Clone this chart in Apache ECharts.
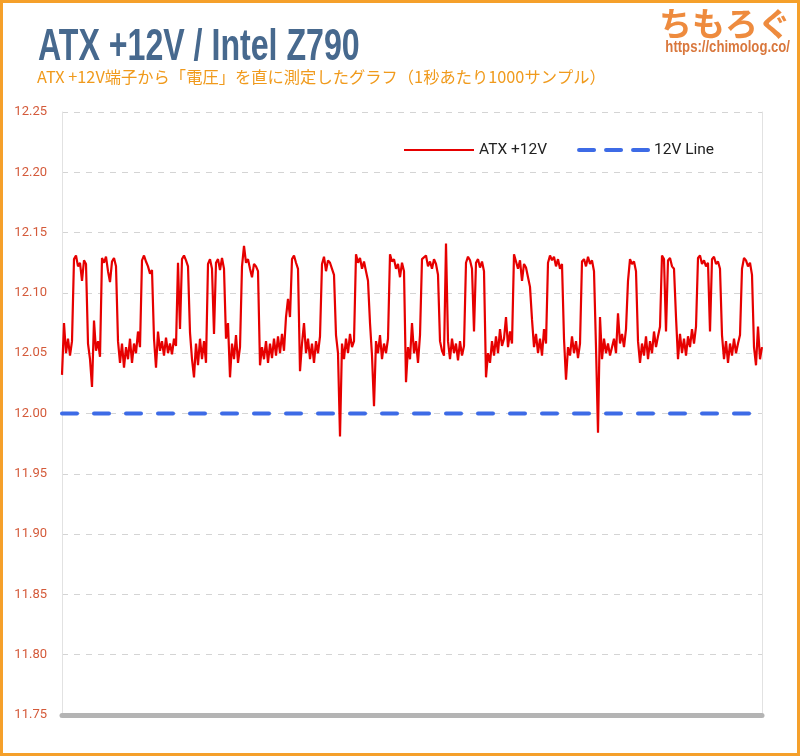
<!DOCTYPE html>
<html>
<head>
<meta charset="utf-8">
<script src="https://cdn.jsdelivr.net/npm/echarts@6/dist/echarts.min.js"></script>
<style>
html,body{margin:0;padding:0;background:#fff;}
#chart{width:800px;height:756px;}
</style>
</head>
<body>
<div id="chart"></div>
<script>
// Titles and labels
const titleText = 'ATX +12V / Intel Z790';
const subtitleText = 'ATX +12V端子から「電圧」を直に測定したグラフ（1秒あたり1000サンプル）';
const logoText = 'ちもろぐ';
const urlText = 'https://chimolog.co/';
const seriesNames = ['ATX +12V', '12V Line'];
const yTicks = [11.75, 11.80, 11.85, 11.90, 11.95, 12.00, 12.05, 12.10, 12.15, 12.20, 12.25];
const referenceVolt = 12.00;

// ATX +12V readings (volts), read across the 1-second window
const atx12v = [
  12.032, 12.075, 12.050, 12.062, 12.048, 12.060,
  12.128, 12.131, 12.122, 12.125, 12.110, 12.127, 12.124,
  12.058, 12.045, 12.022, 12.077, 12.052, 12.060, 12.047,
  12.129, 12.125, 12.130, 12.118, 12.109, 12.126, 12.129, 12.122,
  12.060, 12.042, 12.058, 12.038, 12.055, 12.045, 12.062, 12.042, 12.058, 12.050, 12.068, 12.055,
  12.127, 12.131, 12.126, 12.122, 12.116, 12.119,
  12.062, 12.038, 12.068, 12.052, 12.060, 12.048, 12.063, 12.050, 12.058, 12.049, 12.062, 12.056,
  12.125, 12.070, 12.128, 12.131, 12.127, 12.122,
  12.067, 12.045, 12.030, 12.058, 12.040, 12.062, 12.045, 12.060, 12.042,
  12.124, 12.128, 12.120, 12.066, 12.125, 12.128, 12.119, 12.129, 12.120,
  12.062, 12.075, 12.030, 12.058, 12.045, 12.065, 12.042, 12.055,
  12.122, 12.139, 12.125, 12.128, 12.120, 12.113, 12.124, 12.122, 12.118,
  12.040, 12.055, 12.045, 12.060, 12.042, 12.058, 12.046, 12.062, 12.048, 12.064, 12.050, 12.066, 12.052, 12.080,
  12.095, 12.080, 12.128, 12.131, 12.125, 12.120,
  12.035, 12.058, 12.075, 12.050, 12.062, 12.045, 12.058, 12.042, 12.060, 12.050, 12.064,
  12.124, 12.130, 12.118, 12.127, 12.125, 12.120, 12.115,
  12.065, 12.050, 11.981, 12.058, 12.045, 12.062, 12.050, 12.066, 12.055, 12.060,
  12.132, 12.125, 12.129, 12.120, 12.126, 12.118, 12.110,
  12.075, 12.048, 12.006, 12.060, 12.050, 12.065, 12.045, 12.058, 12.050, 12.062,
  12.132, 12.126, 12.128, 12.120, 12.124, 12.113, 12.125, 12.118,
  12.026, 12.055, 12.045, 12.075, 12.050, 12.060, 12.042, 12.065,
  12.128, 12.127, 12.131, 12.122, 12.126, 12.120, 12.128, 12.124, 12.115,
  12.060, 12.052, 12.048, 12.141, 12.060,
  12.045, 12.062, 12.050, 12.058, 12.044, 12.060, 12.048, 12.056,
  12.125, 12.130, 12.127, 12.120, 12.068, 12.125, 12.128, 12.121, 12.126, 12.118,
  12.030, 12.050, 12.042, 12.060, 12.048, 12.064, 12.050, 12.070, 12.056, 12.062, 12.080, 12.055, 12.068, 12.058,
  12.132, 12.126, 12.120, 12.127, 12.110, 12.124, 12.121, 12.113, 12.105,
  12.078, 12.055, 12.066, 12.050, 12.062, 12.048, 12.070, 12.058,
  12.125, 12.131, 12.127, 12.130, 12.122, 12.128, 12.120, 12.124,
  12.062, 12.028, 12.055, 12.048, 12.064, 12.050, 12.060, 12.046, 12.058,
  12.126, 12.128, 12.122, 12.130, 12.124, 12.127, 12.118,
  12.055, 11.984, 12.080, 12.045, 12.062, 12.050, 12.058, 12.048, 12.055, 12.062, 12.050, 12.083, 12.058, 12.066, 12.055, 12.070,
  12.110, 12.128, 12.124, 12.126, 12.118,
  12.060, 12.042, 12.058, 12.048, 12.064, 12.045, 12.060, 12.050, 12.068, 12.055, 12.064, 12.072,
  12.131, 12.128, 12.068, 12.127, 12.129, 12.122, 12.120,
  12.080, 12.045, 12.066, 12.050, 12.062, 12.048, 12.064, 12.055, 12.070, 12.058, 12.072,
  12.129, 12.131, 12.124, 12.127, 12.122, 12.125, 12.068, 12.128, 12.130, 12.124, 12.126, 12.120,
  12.065, 12.045, 12.060, 12.042, 12.058, 12.048, 12.062, 12.050, 12.058, 12.065,
  12.120, 12.129, 12.127, 12.122, 12.125, 12.115,
  12.055, 12.040, 12.072, 12.045, 12.055
];

const sampleIndex = atx12v.map((_, i) => i);
const lineValues = atx12v.map(() => referenceVolt);

const chart = echarts.init(document.getElementById('chart'), null, {renderer: 'canvas'});
chart.setOption({
  backgroundColor: '#ffffff',
  animation: false,
  graphic: [
    {type: 'text', silent: true, x: 38, y: 48, scaleX: 0.73, scaleY: 1,
     style: {text: titleText, fill: '#47698e', font: 'bold 44px "Liberation Sans", Arial, sans-serif',
             textAlign: 'left', textVerticalAlign: 'middle'}},
    {type: 'text', silent: true, x: 37, y: 77,
     style: {text: subtitleText, fill: '#f09a1c', font: '16.3px "Noto Sans CJK JP", sans-serif',
             textAlign: 'left', textVerticalAlign: 'middle'}},
    {type: 'text', silent: true, x: 791, y: 23,
     style: {text: logoText, fill: '#ee8b3e', font: 'bold 33px "Noto Sans CJK JP", sans-serif',
             textAlign: 'right', textVerticalAlign: 'middle'}},
    {type: 'text', silent: true, x: 790, y: 48, scaleX: 0.82,
     style: {text: urlText, fill: '#d9773c', font: 'bold 16px "Liberation Sans", Arial, sans-serif',
             textAlign: 'right', textVerticalAlign: 'middle'}},
    {type: 'rect', silent: true, z: 100, shape: {x: 1.5, y: 1.5, width: 797, height: 753},
     style: {fill: 'none', stroke: '#f5a02a', lineWidth: 3}}
  ],
  legend: {
    left: 398, top: 137,
    itemWidth: 70, itemHeight: 14, itemGap: 30,
    itemStyle: {color: 'rgba(0,0,0,0)', borderWidth: 0},
    textStyle: {fontFamily: 'Roboto, sans-serif', fontSize: 15.5, color: '#222'},
    data: [
      {name: seriesNames[0]},
      {name: seriesNames[1], lineStyle: {type: [15, 12], width: 4, cap: 'round', color: '#3d6be6'}}
    ]
  },
  grid: {left: 62, right: 38, top: 112, bottom: 41, containLabel: false},
  xAxis: {
    type: 'category',
    data: sampleIndex,
    boundaryGap: false,
    axisLine: {show: true, onZero: false, lineStyle: {color: '#b4b4b4', width: 5}},
    axisTick: {show: false},
    axisLabel: {show: false},
    splitLine: {show: false}
  },
  yAxis: [
    {
      type: 'value',
      min: yTicks[0], max: yTicks[yTicks.length - 1], interval: 0.05,
      axisLine: {show: true, lineStyle: {color: '#e2e2e2', width: 1}},
      axisTick: {show: false},
      axisLabel: {
        margin: 15,
        color: '#d45a3a',
        fontFamily: 'Roboto, sans-serif',
        fontSize: 13,
        formatter: v => v.toFixed(2)
      },
      splitLine: {show: true, lineStyle: {color: '#d4d4d4', type: [6, 6], width: 1}}
    },
    {
      type: 'value', position: 'right',
      min: yTicks[0], max: yTicks[yTicks.length - 1], interval: 0.05,
      axisLine: {show: true, lineStyle: {color: '#e2e2e2', width: 1}},
      axisTick: {show: false}, axisLabel: {show: false}, splitLine: {show: false}
    }
  ],
  series: [
    {
      name: seriesNames[0], type: 'line', data: atx12v,
      showSymbol: false, symbol: 'none',
      lineStyle: {color: '#e60000', width: 2.2},
      itemStyle: {color: '#e60000'},
      z: 3
    },
    {
      name: seriesNames[1], type: 'line', data: lineValues,
      showSymbol: false, symbol: 'none',
      lineStyle: {color: '#3d6be6', width: 4, type: [15, 17], cap: 'round'},
      itemStyle: {color: '#3d6be6'},
      z: 2
    }
  ]
});
</script>
</body>
</html>
